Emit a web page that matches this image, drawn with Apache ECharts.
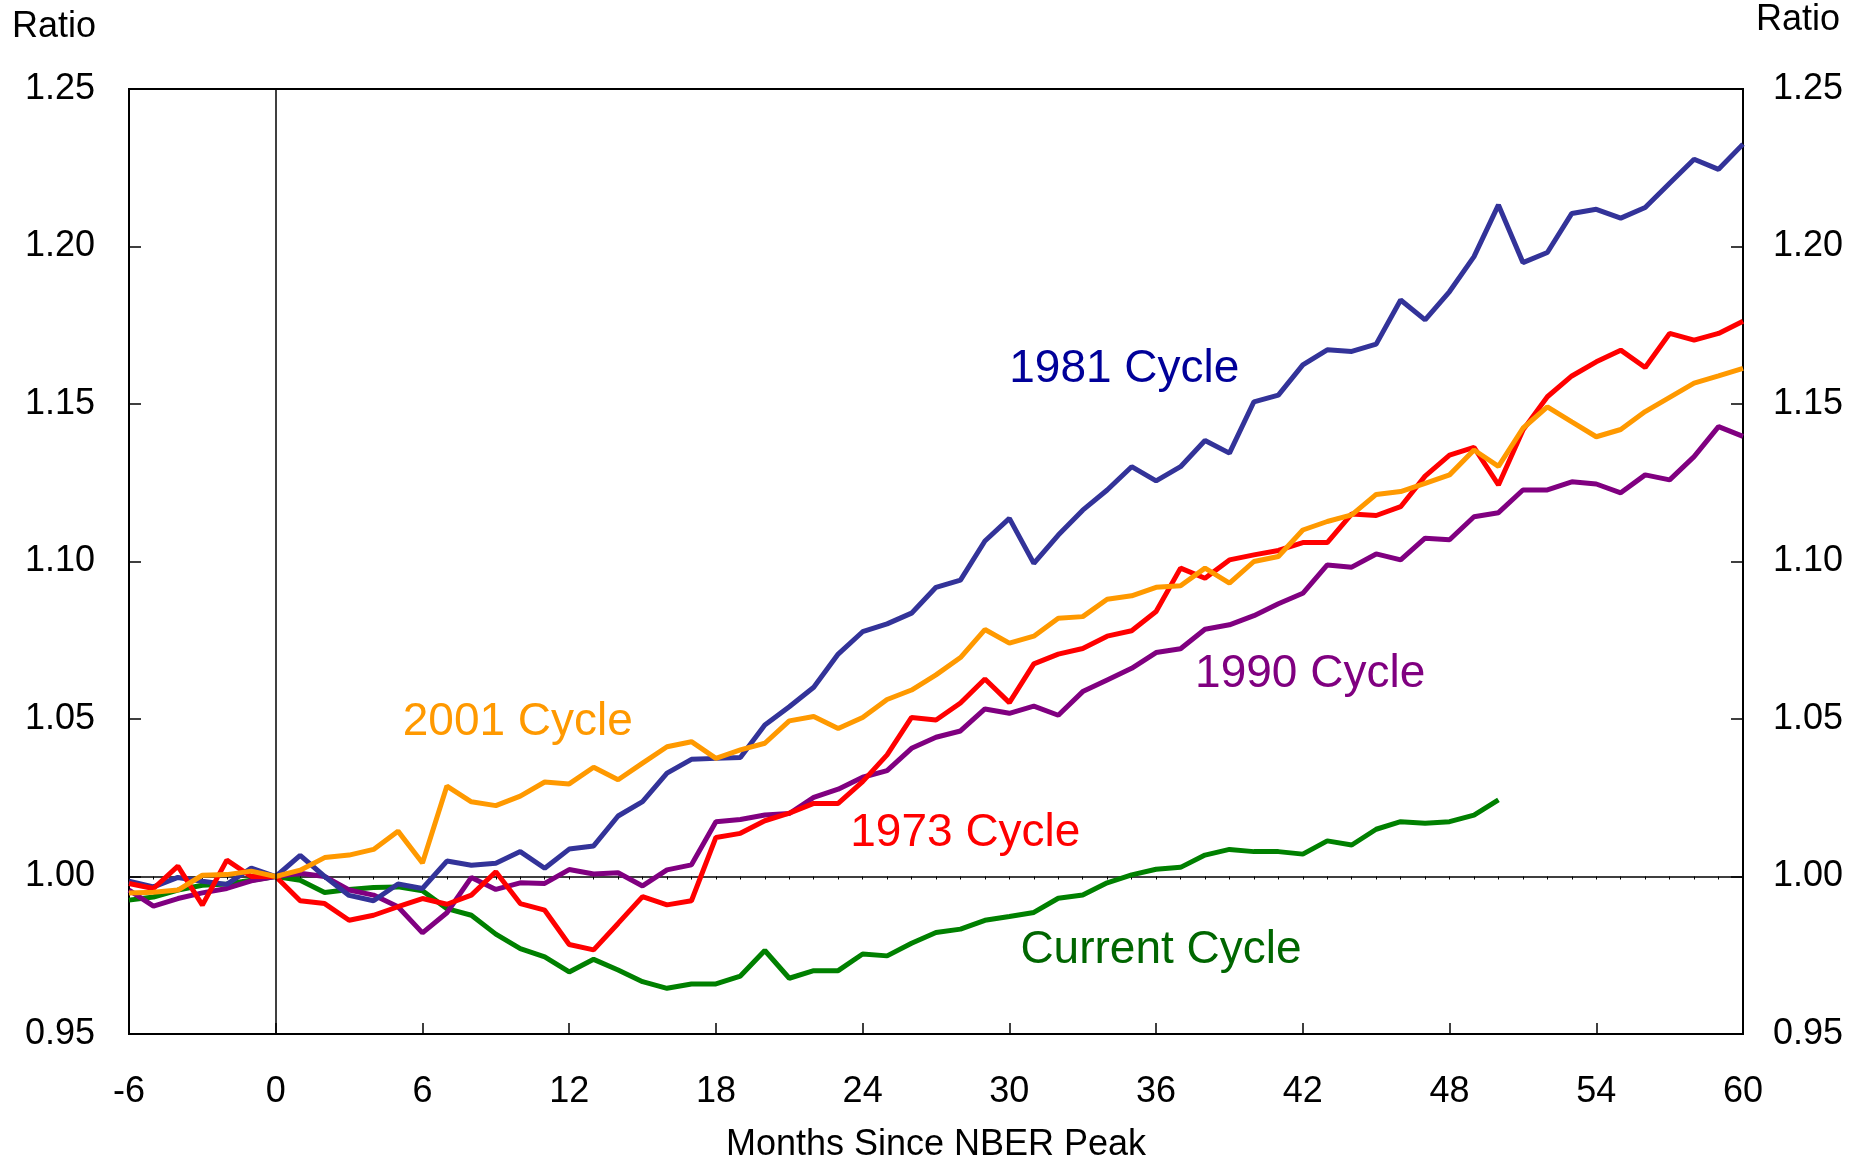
<!DOCTYPE html>
<html>
<head>
<meta charset="utf-8">
<title>Months Since NBER Peak</title>
<script src="https://cdn.jsdelivr.net/npm/echarts@6/dist/echarts.min.js"></script>
<style>
html, body { margin: 0; padding: 0; background: #fff; }
#chart { width: 1860px; height: 1163px; }
</style>
</head>
<body>
<div id="chart"></div>
<script>
// months since peak, -6 .. 60
var months = [-6,-5,-4,-3,-2,-1,0,1,2,3,4,5,6,7,8,9,10,11,12,13,14,15,16,17,18,19,20,21,22,23,24,
  25,26,27,28,29,30,31,32,33,34,35,36,37,38,39,40,41,42,43,44,45,46,47,48,49,50,51,52,53,54,55,56,57,58,59,60];

var yTicks = [0.95, 1.00, 1.05, 1.10, 1.15, 1.20, 1.25];

var cycle1981 = [0.9985,0.9967,0.9997,0.9985,0.9975,1.0027,1.0,1.0067,1.0,0.994,0.9923,0.9976,0.9962,1.0049,1.0036,1.0042,1.0079,1.0026,1.0087,
  1.0097,1.0192,1.0238,1.0328,1.0372,1.0375,1.0378,1.0481,1.0539,1.0601,1.0706,1.0777,1.0802,1.0836,1.0918,1.0941,1.1065,1.1137,1.0994,1.1084,
  1.1163,1.1227,1.1301,1.1256,1.1301,1.1384,1.1344,1.1507,1.1528,1.1624,1.1672,1.1667,1.169,1.183,1.1767,1.1857,1.1968,1.2132,1.1949,1.1981,
  1.2105,1.2118,1.209,1.2124,1.2201,1.2277,1.2245,1.2325];

var cycle1973 = [0.9978,0.9962,1.0033,0.9909,1.0052,1.0,1.0,0.9923,0.9914,0.9861,0.9877,0.9904,0.993,0.9912,0.9941,1.0015,0.9914,0.9893,0.9784,
  0.9767,0.9851,0.9936,0.991,0.9923,1.0124,1.0137,1.0177,1.0201,1.0232,1.0232,1.0301,1.0386,1.0505,1.0497,1.0551,1.0627,1.0552,1.0675,1.0706,
  1.0724,1.0763,1.078,1.0841,1.0979,1.0947,1.1005,1.1021,1.1035,1.106,1.106,1.1151,1.1146,1.1174,1.1271,1.1338,1.1362,1.1243,1.1417,1.1523,
  1.1589,1.1634,1.1671,1.1616,1.1724,1.1703,1.1724,1.1763];

var cycle2001 = [0.9948,0.995,0.9957,1.0004,1.0006,1.0017,1.0,1.002,1.006,1.0068,1.0086,1.0144,1.0043,1.0287,1.0237,1.0225,1.0255,1.03,1.0294,
  1.0347,1.0307,1.036,1.0412,1.0428,1.0375,1.0402,1.0423,1.0494,1.0508,1.047,1.0505,1.0562,1.0592,1.064,1.0695,1.0784,1.0741,1.0763,1.082,
  1.0825,1.088,1.0891,1.0918,1.0923,1.0979,1.0931,1.1,1.1016,1.11,1.1127,1.1148,1.1213,1.1222,1.1248,1.1275,1.1354,1.1302,1.1423,1.1491,
  1.1443,1.1396,1.1419,1.1476,1.1521,1.1566,1.1589,1.1613];

var cycle1990 = [0.9957,0.9906,0.993,0.9948,0.9962,0.9986,1.0,1.001,1.0,0.9957,0.9941,0.9904,0.9821,0.9885,0.9997,0.9959,0.998,0.9978,1.0022,
  1.0008,1.0012,0.997,1.0021,1.0037,1.0174,1.0181,1.0195,1.02,1.0251,1.0277,1.0315,1.0336,1.0407,1.0442,1.0462,1.0532,1.0518,1.0541,1.0512,
  1.0587,1.0624,1.0661,1.0711,1.0723,1.0785,1.0799,1.0828,1.0866,1.0899,1.0989,1.0982,1.1024,1.1005,1.1074,1.1069,1.1142,1.1155,1.1227,1.1227,
  1.1253,1.1246,1.1218,1.1275,1.1259,1.1333,1.1428,1.1397];

// current cycle stops at month 50
var cycleCurrent = [0.9925,0.9935,0.9957,0.9972,0.9976,0.9988,1.0,0.9988,0.9949,0.9959,0.9965,0.9967,0.9955,0.9898,0.9877,0.9817,0.9771,0.9745,0.9697,
  0.9737,0.9703,0.9666,0.9645,0.9659,0.9659,0.9684,0.9765,0.9677,0.9701,0.9701,0.9754,0.9748,0.9788,0.9822,0.9833,0.9861,0.9873,0.9886,0.9931,
  0.9941,0.998,1.0005,1.0023,1.0029,1.0068,1.0086,1.0079,1.0079,1.0071,1.0113,1.01,1.015,1.0174,1.0169,1.0174,1.0195,1.0243];

var FONT = "'Liberation Sans', Arial, sans-serif";

function pairs(vals) {
  return vals.map(function (v, i) { return [months[i], v]; });
}

// label in the middle of the plot, placed in data units
function tag(text, color, at) {
  return {
    symbol: 'circle',
    symbolSize: 1,
    silent: true,
    itemStyle: { color: 'rgba(0,0,0,0)' },
    label: { show: true, position: 'inside', formatter: text, color: color, fontSize: 46, fontFamily: FONT },
    data: [{ coord: at }]
  };
}

function line(name, vals, color, label) {
  return {
    name: name,
    type: 'line',
    data: pairs(vals),
    showSymbol: false,
    symbol: 'none',
    lineStyle: { color: color, width: 5 },
    itemStyle: { color: color },
    markPoint: label
  };
}

var chart = echarts.init(document.getElementById('chart'));

var yAxisBase = {
  type: 'value',
  min: 0.95,
  max: 1.25,
  interval: 0.05,
  axisLine: { show: true, onZero: false, lineStyle: { color: '#000', width: 2 } },
  axisTick: { show: true, inside: true, length: 12, lineStyle: { color: '#000', width: 1.5 } },
  splitLine: { show: false },
  axisLabel: {
    color: '#000', fontSize: 36, fontFamily: FONT,
    formatter: function (v) { return v.toFixed(2); }
  }
};

var option = {
  animation: false,
  backgroundColor: '#fff',
  grid: {
    left: 129, right: 117, top: 89, bottom: 129,
    outerBoundsMode: 'none',
    show: true, borderColor: '#000', borderWidth: 2
  },
  xAxis: [
    {
      type: 'value',
      min: -6,
      max: 60,
      interval: 6,
      name: 'Months Since NBER Peak',
      nameLocation: 'middle',
      nameGap: 93,
      nameTextStyle: { color: '#000', fontSize: 36, fontFamily: FONT },
      axisLine: { show: true, onZero: false, lineStyle: { color: '#000', width: 2 } },
      axisTick: { show: true, inside: true, length: 11, lineStyle: { color: '#000', width: 1.5 } },
      splitLine: { show: false },
      axisLabel: { color: '#000', fontSize: 36, fontFamily: FONT, margin: 40 }
    },
    {
      // the 1.00 reference line with monthly ticks
      type: 'value',
      min: -6,
      max: 60,
      interval: 1,
      position: 'bottom',
      offset: -157.5,
      axisLine: { show: true, onZero: false, lineStyle: { color: '#000', width: 1.5 } },
      axisTick: { show: true, inside: false, length: 3, lineStyle: { color: '#000', width: 1 } },
      axisLabel: { show: false },
      splitLine: { show: false }
    }
  ],
  yAxis: [
    Object.assign({}, yAxisBase, { position: 'left', axisLabel: Object.assign({}, yAxisBase.axisLabel, { margin: 34 }) }),
    Object.assign({}, yAxisBase, { position: 'right', axisLabel: Object.assign({}, yAxisBase.axisLabel, { margin: 30 }) })
  ],
  graphic: [
    { type: 'text', left: 12, top: 9, style: { text: 'Ratio', fontSize: 36, fontFamily: FONT, fill: '#000' } },
    { type: 'text', right: 20, top: 2, style: { text: 'Ratio', fontSize: 36, fontFamily: FONT, fill: '#000' } }
  ],
  series: [
    Object.assign(line('Current Cycle', cycleCurrent, '#008000', tag('Current Cycle', '#006600', [36.2, 0.9765])), {
      markLine: {
        symbol: 'none',
        silent: true,
        label: { show: false },
        lineStyle: { color: '#000', width: 1.5, type: 'solid' },
        data: [{ xAxis: 0 }]
      }
    }),
    line('1990 Cycle', cycle1990, '#800080', tag('1990 Cycle', '#800080', [42.3, 1.0641])),
    line('1981 Cycle', cycle1981, '#333399', tag('1981 Cycle', '#000099', [34.7, 1.1609])),
    line('1973 Cycle', cycle1973, '#FF0000', tag('1973 Cycle', '#FF0000', [28.2, 1.0137])),
    line('2001 Cycle', cycle2001, '#FF9900', tag('2001 Cycle', '#FF9900', [9.9, 1.0489]))
  ]
};

chart.setOption(option);
</script>
</body>
</html>
